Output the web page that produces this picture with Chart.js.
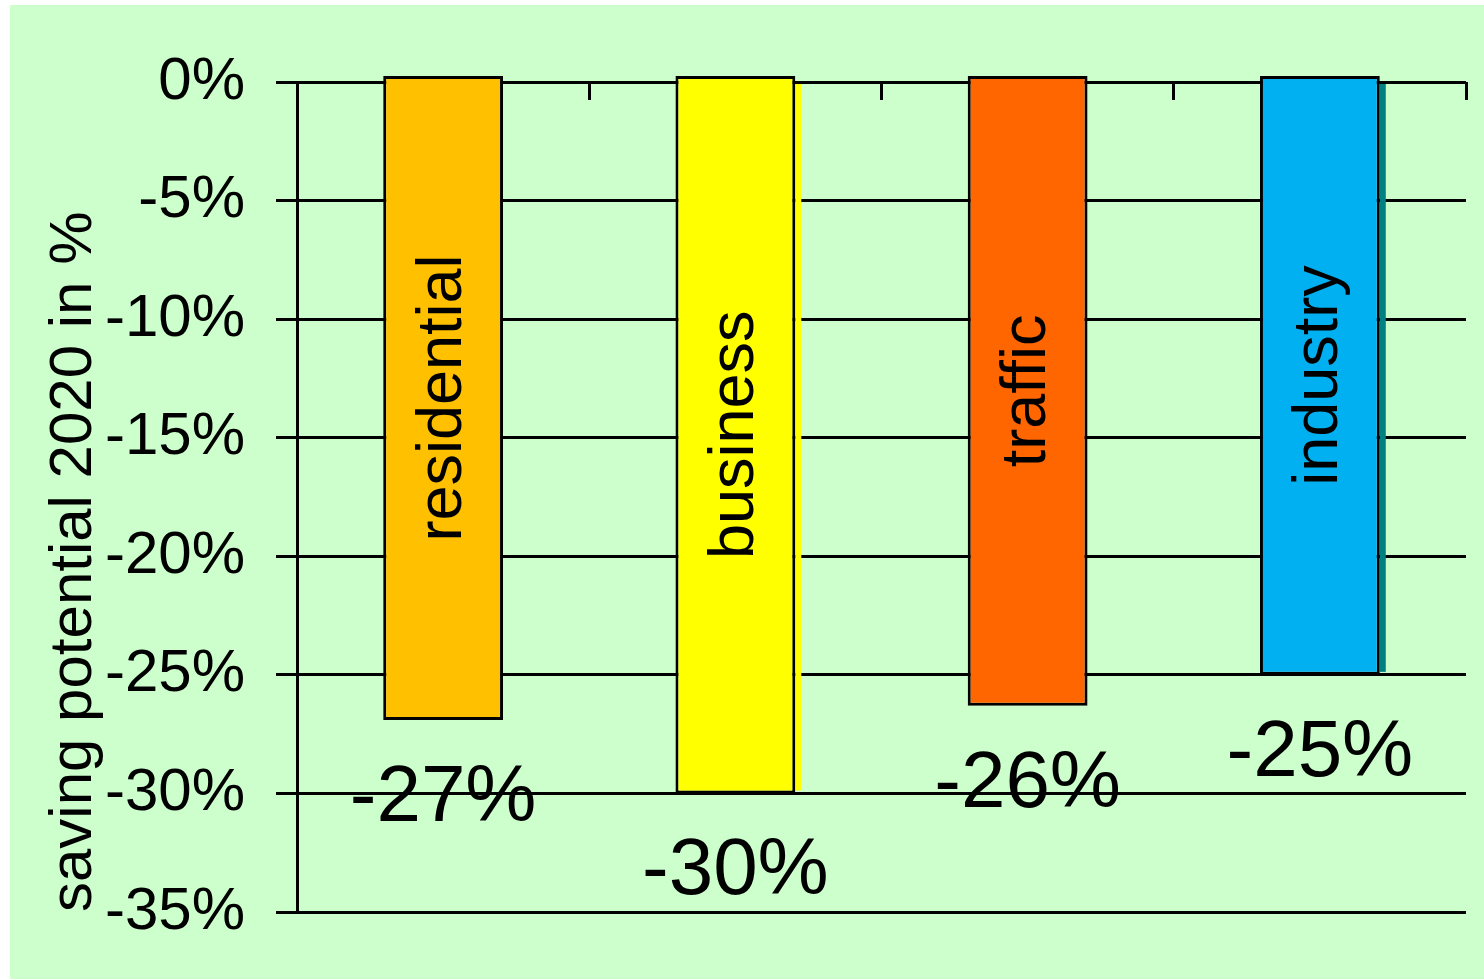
<!DOCTYPE html>
<html>
<head>
<meta charset="utf-8">
<script src="https://cdn.jsdelivr.net/npm/chart.js@4.4.1/dist/chart.umd.min.js"></script>
<style>
  html, body { margin: 0; padding: 0; background: #fff; }
  #wrap {
    position: absolute; left: 10px; top: 5px;
    width: 1474px; height: 974px;
    background: #ccffcc;
  }
</style>
</head>
<body>
<div id="wrap"><canvas id="chart" width="1474" height="974"></canvas></div>
<script>
// data
const categories = ['residential', 'business', 'traffic', 'industry'];
const savings = [-26.9, -30.0, -26.3, -25.0];
const yMin = -35, yMax = 0, yStep = 5;

const barColors = ['#ffc000', '#ffff00', '#ff6600', '#00b0f0'];
const shadowColors = [null, '#ffff00', null, '#008080'];
const FONT = '"Liberation Sans", Arial, sans-serif';

// small offset shadow on the right of some bars
const barShadow = {
  id: 'barShadow',
  beforeDatasetsDraw(chart){
    const ctx = chart.ctx;
    const zero = chart.scales.y.getPixelForValue(0);
    chart.getDatasetMeta(0).data.forEach((bar, i) => {
      if (!shadowColors[i]) return;
      const right = bar.x + bar.width / 2;
      ctx.save();
      ctx.fillStyle = shadowColors[i];
      ctx.fillRect(right, zero + 2, 6, bar.y - zero - 5);
      ctx.restore();
    });
  }
};

// category name inside the bar + value under it
const barText = {
  id: 'barText',
  afterDatasetsDraw(chart){
    const ctx = chart.ctx;
    chart.getDatasetMeta(0).data.forEach((bar, i) => {
      ctx.save();
      ctx.fillStyle = '#000';
      ctx.font = '63px ' + FONT;
      ctx.translate(bar.x, (bar.y + bar.base) / 2);
      ctx.rotate(-Math.PI / 2);
      ctx.textAlign = 'center';
      ctx.textBaseline = 'middle';
      ctx.fillText(categories[i], 0, 0);
      ctx.restore();

      ctx.save();
      ctx.fillStyle = '#000';
      ctx.font = '80px ' + FONT;
      ctx.textAlign = 'center';
      ctx.textBaseline = 'alphabetic';
      ctx.fillText(Math.round(savings[i]) + '%', bar.x, bar.y + 101);
      ctx.restore();
    });
  }
};

new Chart(document.getElementById('chart'), {
  type: 'bar',
  data: {
    labels: categories,
    datasets: [{
      data: savings,
      backgroundColor: barColors,
      borderColor: '#000',
      borderWidth: 3,
      borderSkipped: false,
      base: 0.25,
      clip: false,
      barPercentage: 0.41,
      categoryPercentage: 1
    }]
  },
  options: {
    responsive: false,
    animation: false,
    layout: { padding: { left: 0, top: 77, right: 18, bottom: 67 } },
    plugins: { legend: { display: false }, tooltip: { enabled: false } },
    scales: {
      x: {
        type: 'category',
        position: 'top',
        offset: true,
        ticks: { display: false },
        grid: {
          offset: true,
          drawOnChartArea: false,
          drawTicks: true,
          tickLength: -18,
          color: '#000',
          lineWidth: 3
        },
        border: { display: false },
        afterFit(scale){ scale.height = 0; }
      },
      y: {
        min: yMin,
        max: yMax,
        ticks: {
          stepSize: yStep,
          padding: 31,
          color: '#000',
          font: { family: FONT, size: 60 },
          callback: v => v + '%'
        },
        grid: { color: '#000', lineWidth: 3, tickLength: 21 },
        border: { display: true, color: '#000', width: 3 },
        title: {
          display: true,
          text: 'saving potential 2020 in %',
          align: 'start',
          color: '#000',
          font: { family: FONT, size: 60, lineHeight: 1.2 },
          padding: { top: 28, bottom: 0 }
        },
        afterFit(scale){ scale.width = 287; }
      }
    }
  },
  plugins: [barShadow, barText]
});
</script>
</body>
</html>
